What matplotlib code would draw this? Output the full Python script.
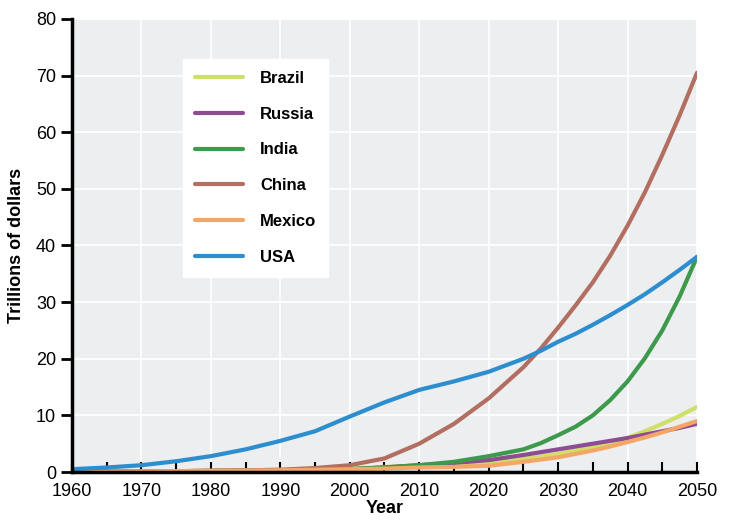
import matplotlib
matplotlib.use("Agg")
import matplotlib.pyplot as plt
from matplotlib.ticker import MultipleLocator

plt.rcParams['font.family'] = ['Liberation Sans', 'DejaVu Sans']

# GDP projections, trillions of dollars
years = [1960, 1965, 1970, 1975, 1980, 1985, 1990, 1995, 2000, 2005, 2010, 2015, 2020,
         2025, 2027.5, 2030, 2032.5, 2035, 2037.5, 2040, 2042.5, 2045, 2047.5, 2050]
usa = [0.5, 0.8, 1.2, 1.9, 2.8, 4.0, 5.5, 7.2, 9.8, 12.3, 14.5, 16.0, 17.7,
       20.0, 21.4, 23.0, 24.4, 26.0, 27.7, 29.5, 31.4, 33.5, 35.7, 38.0]
china = [0.05, 0.07, 0.1, 0.15, 0.2, 0.3, 0.4, 0.7, 1.2, 2.4, 5.0, 8.5, 13.0,
         18.5, 21.8, 25.5, 29.4, 33.5, 38.2, 43.5, 49.4, 56.0, 63.0, 70.5]
india = [0.05, 0.07, 0.1, 0.15, 0.2, 0.25, 0.3, 0.4, 0.5, 0.8, 1.2, 1.8, 2.8,
         4.0, 5.1, 6.5, 8.0, 10.0, 12.7, 16.0, 20.1, 25.0, 31.0, 38.0]
brazil = [0.05, 0.07, 0.1, 0.15, 0.2, 0.3, 0.4, 0.5, 0.6, 0.9, 1.2, 1.4, 1.7,
          2.3, 2.7, 3.2, 3.8, 4.4, 5.1, 6.0, 7.2, 8.5, 9.9, 11.5]
russia = [0.05, 0.07, 0.1, 0.15, 0.2, 0.25, 0.3, 0.4, 0.5, 0.8, 1.2, 1.6, 2.1,
          3.0, 3.5, 4.0, 4.5, 5.0, 5.5, 6.0, 6.6, 7.2, 7.8, 8.5]
mexico = [0.05, 0.07, 0.1, 0.15, 0.2, 0.25, 0.3, 0.4, 0.5, 0.6, 0.8, 0.9, 1.1,
          1.8, 2.2, 2.6, 3.2, 3.8, 4.5, 5.3, 6.1, 7.0, 8.0, 9.0]

series = [
    ("Brazil", brazil, "#cfe06a"),
    ("Russia", russia, "#8e4d92"),
    ("India", india, "#3d9a4c"),
    ("China", china, "#b26e60"),
    ("Mexico", mexico, "#f3a666"),
    ("USA", usa, "#2c8ecf"),
]

fig = plt.figure(figsize=(7.33, 5.23), dpi=100)
ax = fig.add_axes([0.0982, 0.0975, 0.8527, 0.8662])
ax.set_facecolor("#eceef0")

for name, vals, col in series:
    ax.plot(years, vals, color=col, lw=3, label=name,
            solid_capstyle="round", solid_joinstyle="round")

ax.set_xlim(1960, 2050)
ax.set_ylim(0, 80)
ax.xaxis.set_major_locator(MultipleLocator(10))
ax.xaxis.set_minor_locator(MultipleLocator(5))
ax.yaxis.set_major_locator(MultipleLocator(10))
ax.grid(True, which="major", color="white", lw=1.2)
ax.set_axisbelow(True)

for s in ["top", "right"]:
    ax.spines[s].set_visible(False)
for s in ["left", "bottom"]:
    ax.spines[s].set_linewidth(2.5)

ax.tick_params(axis="y", direction="out", length=8, width=2, labelsize=13)
ax.tick_params(axis="x", which="both", direction="in", length=7, width=1.5, labelsize=13, pad=8)

ax.set_ylabel("Trillions of dollars", fontsize=13, fontweight="bold", labelpad=8)
ax.set_xlabel("Year", fontsize=13, fontweight="bold", labelpad=0)

leg = ax.legend(loc="upper left", bbox_to_anchor=(0.165, 0.93), frameon=True,
                fancybox=False, framealpha=1, edgecolor="white", facecolor="white",
                fontsize=12, labelspacing=1.25, handlelength=2.9, handletextpad=1.0,
                borderpad=0.7)
for t in leg.get_texts():
    t.set_fontweight("bold")

fig.savefig("out.png", dpi=100)
